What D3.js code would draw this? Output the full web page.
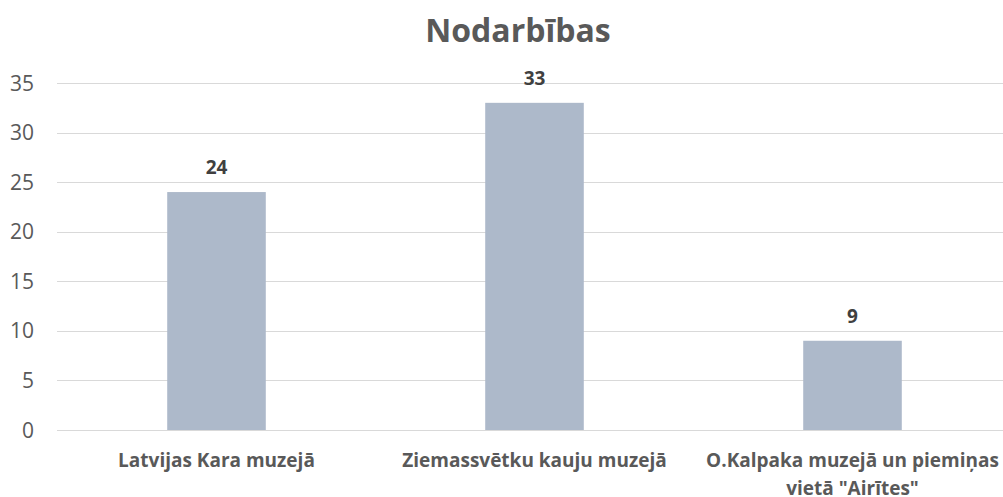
<!DOCTYPE html>
<meta charset="utf-8">
<script src="https://d3js.org/d3.v7.min.js"></script>
<style>
  body { margin: 0; background: #fff; }
  text { font-family: "Open Sans", sans-serif; }
</style>
<div id="vis"></div>
<script type="text/javascript">

var categories = [
  ["Latvijas Kara muzejā"],
  ["Ziemassvētku kauju muzejā"],
  ["O.Kalpaka muzejā un piemiņas", "vietā \"Airītes\""]
];
var values = [24, 33, 9];
var yTicks = [0, 5, 10, 15, 20, 25, 30, 35];
var title = "Nodarbības";

var width = 1003, height = 497;

var svg = d3.select("#vis")
  .append("svg")
    .attr("width", width)
    .attr("height", height);

var x = d3.scaleBand()
  .domain(d3.range(categories.length))
  .range([57.5, 1011.5])
  .paddingInner(0.69)
  .paddingOuter(0.345);

var y = d3.scaleLinear()
  .domain([0, 35])
  .range([430, 83]);

// gridlines
svg.append("g").selectAll("line").data(yTicks)
  .enter().append("line")
    .attr("x1", 57)
    .attr("x2", width)
    .attr("y1", d => Math.round(y(d)) + 0.5)
    .attr("y2", d => Math.round(y(d)) + 0.5)
    .attr("stroke", "#d9d9d9")
    .attr("stroke-width", 1);

// y tick labels
svg.append("g").selectAll("text").data(yTicks)
  .enter().append("text")
    .attr("x", 34)
    .attr("y", d => y(d))
    .attr("dy", "0.36em")
    .attr("text-anchor", "end")
    .attr("fill", "#595959")
    .style("font-size", "21px")
    .text(d => d);

// bars
svg.append("g").selectAll("rect").data(values)
  .enter().append("rect")
    .attr("x", (d, i) => x(i))
    .attr("y", d => y(d))
    .attr("width", x.bandwidth())
    .attr("height", d => y(0) - y(d))
    .attr("fill", "#adb9ca");

// data labels
svg.append("g").selectAll("text").data(values)
  .enter().append("text")
    .attr("x", (d, i) => x(i) + x.bandwidth() / 2)
    .attr("y", d => y(d) - 18)
    .attr("text-anchor", "middle")
    .attr("fill", "#404040")
    .style("font-size", "19px")
    .style("font-weight", "bold")
    .text(d => d);

// category labels
var cat = svg.append("g").selectAll("text").data(categories)
  .enter().append("text")
    .attr("text-anchor", "middle")
    .attr("fill", "#595959")
    .style("font-size", "19px")
    .style("font-weight", "bold");

cat.selectAll("tspan").data((d, i) => d.map(t => ({t: t, i: i})))
  .enter().append("tspan")
    .attr("x", d => x(d.i) + x.bandwidth() / 2)
    .attr("y", (d, j) => 467 + j * 28)
    .text(d => d.t);

// title
svg.append("text")
  .attr("x", 518)
  .attr("y", 42)
  .attr("text-anchor", "middle")
  .attr("fill", "#595959")
  .style("font-size", "32px")
  .style("font-weight", "bold")
  .text(title);

</script>
